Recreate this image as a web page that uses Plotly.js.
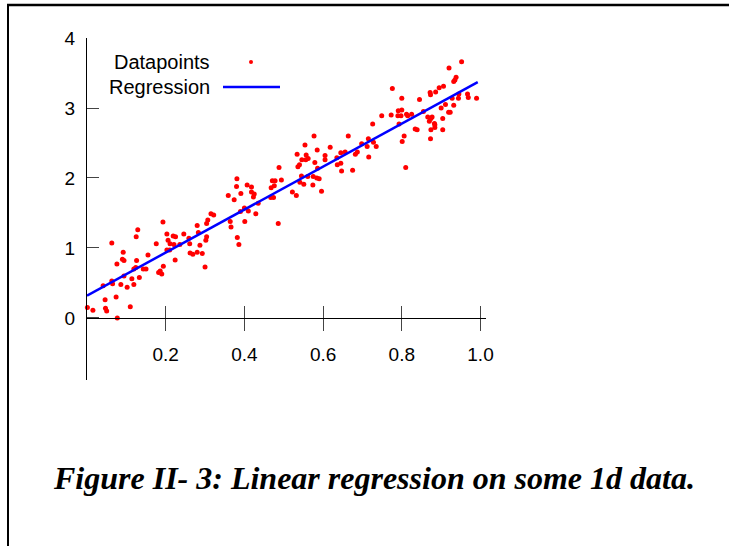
<!DOCTYPE html>
<html>
<head>
<meta charset="utf-8">
<script src="https://cdn.plot.ly/plotly-3.0.1.min.js"></script>
<style>
  html, body { margin: 0; padding: 0; background: #fff; }
  #chart { width: 729px; height: 546px; }
</style>
</head>
<body>
<div id="chart"></div>
<script>
// ---- data ----
var pointsX = [
  0.001,0.015,0.047,0.050,0.077,0.046,0.074,0.110,0.041,0.063,0.065,0.086,0.102,0.119,0.114,0.094,0.133,
  0.076,0.090,0.094,0.092,0.063,0.126,0.119,0.124,0.143,0.150,0.155,0.125,0.129,0.176,0.182,0.186,0.190,
  0.194,0.193,0.203,0.206,0.203,0.210,0.211,0.219,0.225,0.221,0.236,0.246,0.224,0.261,0.262,0.269,
  0.300,0.280,0.293,0.287,0.302,0.304,0.283,0.280,0.304,0.307,0.315,0.322,0.259,0.364,0.366,0.382,0.386,
  0.401,0.390,0.400,0.410,0.429,0.435,0.423,0.418,0.407,0.418,0.425,0.391,0.359,0.374,0.380,0.381,0.468,
  0.471,0.478,0.476,0.488,0.494,0.467,0.474,0.486,
  0.522,0.532,0.541,0.545,0.551,0.561,0.574,0.575,0.584,0.590,0.596,0.536,0.540,0.546,0.556,0.562,0.557,
  0.534,0.554,0.577,0.585,0.579,0.586,0.605,0.605,0.618,0.635,0.636,0.645,0.645,0.647,0.656,0.664,0.675,
  0.682,0.687,0.698,0.715,0.712,0.716,0.726,0.728,0.735,
  0.810,0.801,0.806,0.793,0.749,0.773,0.790,0.791,0.800,0.798,0.812,0.815,0.825,0.834,0.839,0.800,0.776,
  0.845,0.855,0.866,0.870,0.874,0.877,0.883,0.884,0.884,0.874,0.873,0.872,0.873,0.886,0.895,0.900,0.906,
  0.911,0.904,0.904,0.919,0.923,0.932,0.928,0.920,0.932,0.935,0.938,0.952,0.945,0.944,0.967,0.969,0.990
];
var pointsY = [
  0.15,0.11,0.14,0.10,0.00,0.26,0.30,0.16,0.46,0.53,0.49,0.48,0.44,0.48,0.56,0.60,0.58,
  0.77,0.84,0.82,0.94,1.07,0.82,0.70,0.72,0.70,0.70,0.90,1.16,1.26,1.06,0.65,0.67,0.63,
  0.74,1.37,1.20,1.11,0.97,0.97,1.06,1.17,1.16,1.05,1.05,1.20,0.83,1.06,0.93,0.91,
  0.73,0.94,0.92,1.04,1.11,1.16,1.22,1.32,1.35,1.40,1.49,1.47,1.14,1.38,1.30,1.15,1.05,
  1.38,1.52,1.57,1.53,1.49,1.64,1.73,1.80,1.90,1.87,1.77,1.78,1.75,1.69,1.88,1.99,1.86,
  1.96,1.96,1.89,2.15,1.97,1.72,1.72,1.35,
  1.80,1.75,1.94,2.03,1.91,2.02,1.90,2.02,2.00,1.99,1.81,2.16,2.19,2.26,2.26,2.28,2.33,
  2.34,2.47,2.60,2.40,2.22,2.14,2.32,2.26,2.44,2.29,2.19,2.21,2.36,2.10,2.37,2.60,2.11,
  2.34,2.37,2.49,2.56,2.45,2.30,2.77,2.51,2.45,
  2.15,2.52,2.60,2.77,2.89,2.90,2.89,2.96,2.97,2.89,2.91,2.89,2.91,2.70,2.69,3.14,3.28,
  3.12,2.95,2.87,2.81,2.85,2.87,2.78,2.72,2.76,2.69,2.56,3.22,3.19,3.23,3.29,3.00,3.31,
  3.05,2.85,2.69,2.94,2.94,3.04,3.14,3.57,3.38,3.40,3.44,3.66,3.20,3.14,3.20,3.15,3.14
];
var lineX = [0, 0.993];
var lineY = [0.32, 3.37];
var xTickVals = [0.2, 0.4, 0.6, 0.8, 1.0];
var xTickText = ['0.2', '0.4', '0.6', '0.8', '1.0'];
var yTickVals = [0, 1, 2, 3, 4];
var yTickText = ['0', '1', '2', '3', '4'];
var seriesNames = ['Datapoints', 'Regression'];
var caption = 'Figure II- 3: Linear regression on some 1d data.';

// ---- layout helpers ----
var xRange = [0, 1.014];
var yRange = [-0.886, 4];
var xAxisPos = (0 - yRange[0]) / (yRange[1] - yRange[0]);
var sans = 'Liberation Sans, Arial, sans-serif';

var traces = [
  {
    type: 'scatter', mode: 'markers', name: seriesNames[0],
    x: pointsX, y: pointsY, xaxis: 'x', yaxis: 'y',
    marker: { color: '#ff0000', size: 5 },
    cliponaxis: false, hoverinfo: 'skip'
  },
  {
    type: 'scatter', mode: 'lines', name: seriesNames[1],
    x: lineX, y: lineY, xaxis: 'x2', yaxis: 'y',
    line: { color: '#0000ff', width: 2.5 },
    hoverinfo: 'skip'
  }
];

var layout = {
  width: 729, height: 546,
  margin: { l: 87, r: 243, t: 38, b: 166, pad: 0 },
  paper_bgcolor: '#ffffff', plot_bgcolor: 'rgba(0,0,0,0)',
  showlegend: false,
  font: { family: sans, size: 19, color: '#000' },
  xaxis: {
    range: xRange, domain: [0, 1], anchor: 'free', position: xAxisPos,
    showline: true, linecolor: '#000', linewidth: 1,
    ticks: 'outside', ticklen: 12, tickwidth: 1, tickcolor: '#444',
    tickvals: xTickVals, ticktext: xTickText, ticklabelstandoff: 7,
    showgrid: false, zeroline: false,
    tickfont: { family: sans, size: 19, color: '#000' }
  },
  xaxis2: {
    range: xRange, domain: [0, 1], overlaying: 'x', anchor: 'free', position: xAxisPos,
    showline: false, ticks: 'inside', ticklen: 12, tickwidth: 1, tickcolor: '#444',
    tickvals: xTickVals, showticklabels: false, showgrid: false, zeroline: false
  },
  yaxis: {
    range: yRange, domain: [0, 1], anchor: 'x',
    showline: true, linecolor: '#000', linewidth: 1,
    ticks: 'inside', ticklen: 12, tickwidth: 1, tickcolor: '#444',
    tickvals: yTickVals, ticktext: yTickText, ticklabelstandoff: 7,
    showgrid: false, zeroline: false,
    tickfont: { family: sans, size: 19, color: '#000' }
  },
  annotations: [
    { xref: 'paper', yref: 'paper', x: (212 - 87) / 399, y: (380 - 62) / 342, xanchor: 'right', yanchor: 'middle',
      text: seriesNames[0], showarrow: false, font: { family: sans, size: 20, color: '#000' } },
    { xref: 'paper', yref: 'paper', x: (212 - 87) / 399, y: (380 - 87) / 342, xanchor: 'right', yanchor: 'middle',
      text: seriesNames[1], showarrow: false, font: { family: sans, size: 20, color: '#000' } },
    { xref: 'paper', yref: 'paper', x: (374 - 87) / 399, y: (380 - 478) / 342, xanchor: 'center', yanchor: 'middle',
      text: '<b><i>' + caption + '</i></b>', showarrow: false,
      font: { family: 'Liberation Serif, Times New Roman, serif', size: 32, color: '#000' } }
  ],
  shapes: [
    // legend samples
    { type: 'circle', xref: 'paper', yref: 'paper', xsizemode: 'pixel', ysizemode: 'pixel',
      xanchor: (251 - 87) / 399, yanchor: (380 - 62) / 342, x0: -2, x1: 2, y0: -2, y1: 2,
      fillcolor: '#ff0000', line: { width: 0 } },
    { type: 'line', xref: 'paper', yref: 'paper', x0: (223 - 87) / 399, x1: (280 - 87) / 399,
      y0: (380 - 87) / 342, y1: (380 - 87) / 342, line: { color: '#0000ff', width: 2.5 } },
    // page frame (top and left rules)
    { type: 'line', xref: 'paper', yref: 'paper', x0: (7 - 87) / 399, x1: (729 - 87) / 399,
      y0: (380 - 5) / 342, y1: (380 - 5) / 342, line: { color: '#000', width: 2.5 } },
    { type: 'line', xref: 'paper', yref: 'paper', x0: (8 - 87) / 399, x1: (8 - 87) / 399,
      y0: (380 - 4) / 342, y1: (380 - 547) / 342, line: { color: '#000', width: 2 } }
  ]
};

Plotly.newPlot('chart', traces, layout, { displayModeBar: false, staticPlot: true });
</script>
</body>
</html>
